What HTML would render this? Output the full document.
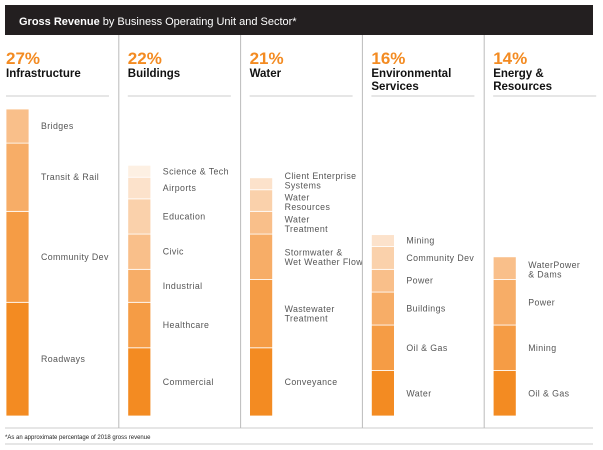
<!DOCTYPE html>
<html><head><meta charset="utf-8"><style>
html,body{margin:0;padding:0;background:#fff;width:603px;height:450px;overflow:hidden}
svg{display:block;font-family:"Liberation Sans",sans-serif}
</style></head><body>
<svg id="chart" width="603" height="450">
<rect x="5" y="5" width="588" height="30" fill="#231f20"/>
<text x="19" y="25" font-size="11" fill="#fff"><tspan font-weight="bold">Gross Revenue</tspan> by Business Operating Unit and Sector*</text>
<line x1="5" y1="428" x2="593" y2="428" stroke="#ccc"/>
<line x1="5" y1="444" x2="593" y2="444" stroke="#ccc"/>
<text x="5" y="439" font-size="6" fill="#222">*As an approximate percentage of 2018 gross revenue</text>
<g id="cols"></g>
</svg>
<script>
const units = ["Infrastructure","Buildings","Water","Environmental Services","Energy & Resources"];
const unitPercents = [27,22,21,16,14];
const unitLines = [["Infrastructure"],["Buildings"],["Water"],["Environmental","Services"],["Energy &","Resources"]];
// sector values listed bottom to top (% of revenue)
const sectorNames = [
 ["Roadways","Community Dev","Transit & Rail","Bridges"],
 ["Commercial","Healthcare","Industrial","Civic","Education","Airports","Science & Tech"],
 ["Conveyance","Wastewater|Treatment","Stormwater &|Wet Weather Flow","Water|Treatment","Water|Resources","Client Enterprise|Systems"],
 ["Water","Oil & Gas","Buildings","Power","Community Dev","Mining"],
 ["Oil & Gas","Mining","Power","WaterPower|& Dams"]
];
const sectorValues = [
 [10,8,6,3],
 [6,4,2.9,3.1,3.1,1.9,1.05],
 [6,6,4,2,1.9,1.05],
 [4,4,2.9,2,2,1.05],
 [4,4,4,2]
];
const colors=["#f38b22","#f59c45","#f7ad67","#f9bf8a","#fad1ab","#fce2cb","#fdf0e3"];
const NS="http://www.w3.org/2000/svg";
const g=document.getElementById("cols");
const baseY=416, pxPer=11.37, colW=121.8, x0=5;
function yScale(v){return v*pxPer;}
function mk(tag,attrs){const e=document.createElementNS(NS,tag);for(const k in attrs)e.setAttribute(k,attrs[k]);return e;}
units.forEach((u,i)=>{
  const cx=x0+i*colW;
  if(i>0){const d=mk("line",{x1:cx-8,y1:35,x2:cx-8,y2:428,stroke:"#bbb"});
    
    g.appendChild(d);}
  const p=mk("text",{x:cx+1,y:64,"font-size":17,"font-weight":"bold",fill:"#f38b22"});
  p.textContent=unitPercents[i]+"%";
  
  g.appendChild(p);
  unitLines[i].forEach((ln,j)=>{
    const t=mk("text",{x:cx+1,y:77+j*13,"font-size":11.5,"font-weight":"bold",fill:"#111"});
    t.textContent=ln;
    
    g.appendChild(t);
  });
  const r=mk("line",{x1:cx+1,y1:96,x2:cx+104,y2:96,stroke:"#ccc"});
  
  g.appendChild(r);
  let y=baseY;
  const bx=cx+1;
  const n=sectorValues[i].length;
  sectorValues[i].forEach((v,k)=>{
    const h=yScale(v);
    const rect=mk("rect",{x:bx,y:y-h,width:23,height:h,fill:colors[k],stroke:"#fff","stroke-width":0.8});
    
    g.appendChild(rect);
    const lines=sectorNames[i][k].split("|");
    const mid=y-h/2;
    let first=mid+3-(lines.length-1)*4.5;
    if(lines.length>1 && h<30) first = (k===n-1 && h<15) ? y-h+1 : y-h+11;
    lines.forEach((ln,j)=>{
      const t=mk("text",{x:bx+35,y:first+j*9.5,"font-size":8.8,fill:"#555","letter-spacing":"0.4"});
      t.textContent=ln;
      
      g.appendChild(t);
    });
    y-=h;
  });
});
</script>
</body></html>
